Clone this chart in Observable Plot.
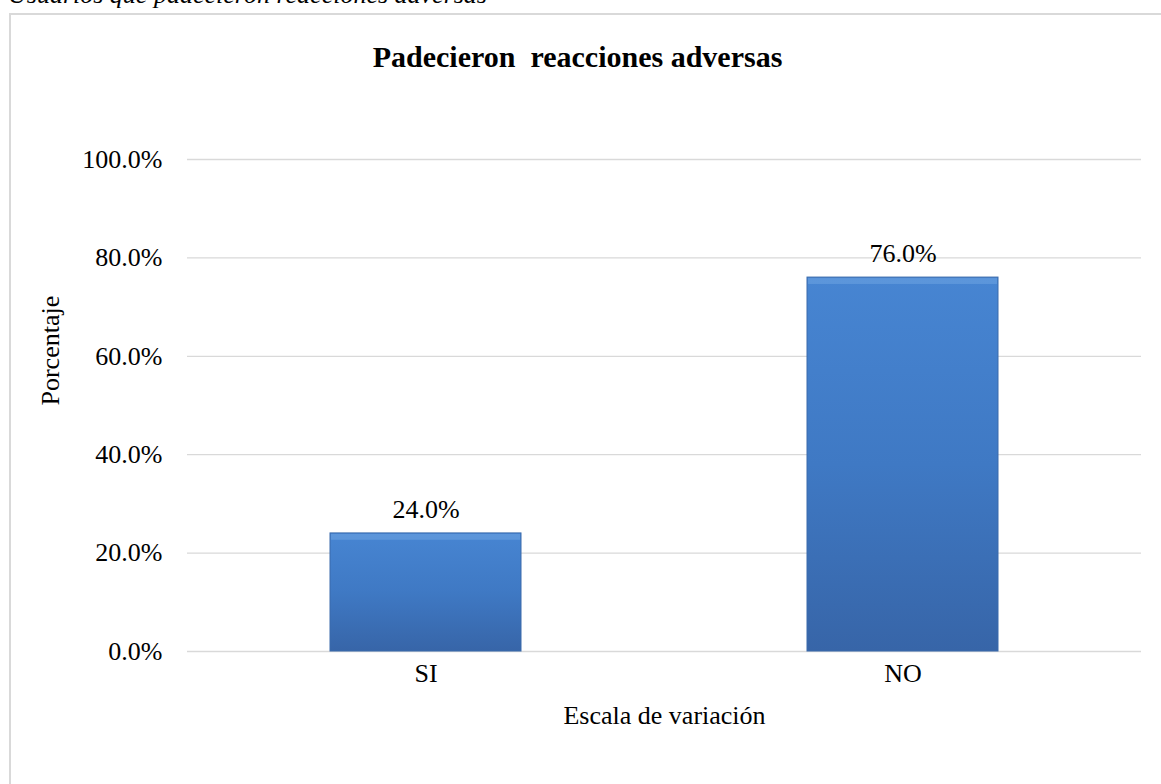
<!DOCTYPE html>
<html>
<head>
<meta charset="utf-8">
<script src="https://cdn.jsdelivr.net/npm/d3@7"></script>
<script src="https://cdn.jsdelivr.net/npm/@observablehq/plot@0.6"></script>
<style>
  html, body { margin: 0; padding: 0; background: #fff; overflow: hidden; }
  #wrap { position: relative; width: 1161px; height: 784px; font-family: "Liberation Serif", "Times New Roman", serif; }
  #caption { position: absolute; left: 8px; top: -20px; font-size: 26px; font-style: italic; color: #000; white-space: nowrap; }
  #frame { position: absolute; left: 9px; top: 13px; width: 1170px; height: 800px; border: 2px solid #d9d9d9; box-sizing: border-box; }
  #title { position: absolute; left: 0px; width: 1155px; top: 40px; text-align: center; font-size: 30px; font-weight: bold; white-space: pre; color: #000; }
  #chart { position: absolute; left: 0; top: 0; }
  #chart svg text { font-size: 26px; }
</style>
</head>
<body>
<div id="wrap">
  <div id="caption">Usuarios que padecieron reacciones adversas</div>
  <div id="frame"></div>
  <div id="title">Padecieron  reacciones adversas</div>
  <div id="chart"></div>
</div>
<script>
const categories = ["SI", "NO"];
const values = [24.0, 76.0];
const yTicks = [0, 20, 40, 60, 80, 100];
const xTitle = "Escala de variación";
const yTitle = "Porcentaje";

const data = categories.map((c, i) => ({cat: c, val: values[i]}));

const plot = Plot.plot({
  width: 1161,
  height: 784,
  marginLeft: 187,
  marginRight: 20,
  marginTop: 159,
  marginBottom: 133,
  style: {fontFamily: "'Liberation Serif', 'Times New Roman', serif", fontSize: "26px", color: "#000", background: "transparent"},
  x: {domain: categories, paddingInner: 0.6, paddingOuter: 0.3, label: null, tickSize: 0, tickPadding: 12},
  y: {domain: [0, 100], ticks: yTicks, tickFormat: d => d.toFixed(1) + "%", label: null, tickSize: 0, tickPadding: 25},
  marks: [
    Plot.ruleY(yTicks, {stroke: "#d9d9d9", strokeWidth: 1.3}),
    Plot.barY(data, {x: "cat", y: "val", fill: "url(#barGrad)", stroke: "#3a6aab", strokeWidth: 1}),
    Plot.barY(data, {x: "cat", y1: "val", y2: d => d.val - 1.6, fill: "#6ea4e2", fillOpacity: 0.55, inset: 1}),
    Plot.text(data, {x: "cat", y: "val", text: d => d.val.toFixed(1) + "%", dy: -24, fontSize: 26, fill: "#000"}),
    Plot.text([xTitle], {frameAnchor: "bottom", dy: 72, fontSize: 26, fill: "#000"}),
    Plot.text([yTitle], {frameAnchor: "left", dx: -137, rotate: -90, fontSize: 26, fill: "#000"})
  ]
});

const ns = "http://www.w3.org/2000/svg";
const defs = document.createElementNS(ns, "defs");
defs.innerHTML = `
<linearGradient id="barGrad" x1="0" y1="0" x2="0" y2="1">
  <stop offset="0" stop-color="#4785d2"/>
  <stop offset="0.5" stop-color="#3f79c4"/>
  <stop offset="1" stop-color="#3765a8"/>
</linearGradient>`;
plot.insertBefore(defs, plot.firstChild);
document.getElementById("chart").appendChild(plot);
</script>
</body>
</html>
